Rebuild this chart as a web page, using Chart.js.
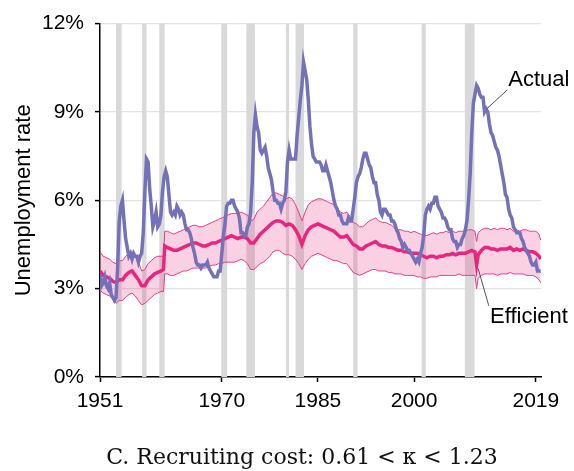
<!DOCTYPE html>
<html>
<head>
<meta charset="utf-8">
<script src="https://cdn.jsdelivr.net/npm/chart.js@4.4.1/dist/chart.umd.min.js"></script>
<style>
  html, body { margin: 0; padding: 0; background: #fff; }
</style>
</head>
<body>
<canvas id="chart" width="574" height="471"></canvas>
<script>
// quarterly actual unemployment rate, 1951Q1 .. 2019Q4
const firstYear = 1951;
const actualRate = [
  3.5, 3.1, 3.2, 3.4,   3.1, 3.0, 3.2, 2.8,   2.7, 2.6, 2.7, 3.7,   5.3, 5.8, 6.0, 5.3,   4.7, 4.4, 4.1, 4.2,
  4.0, 4.2, 4.1, 4.1,   3.9, 4.1, 4.2, 4.9,   6.3, 7.4, 7.3, 6.4,   5.8, 5.1, 5.3, 5.6,   5.1, 5.2, 5.5, 6.3,
  6.8, 7.0, 6.8, 6.2,   5.6, 5.5, 5.6, 5.5,   5.8, 5.7, 5.5, 5.6,   5.5, 5.2, 5.0, 5.0,   4.9, 4.7, 4.4, 4.2,
  3.9, 3.8, 3.8, 3.7,   3.8, 3.8, 3.8, 3.9,   3.7, 3.6, 3.5, 3.4,   3.4, 3.4, 3.6, 3.6,   4.2, 4.8, 5.2, 5.8,
  5.9, 5.9, 6.0, 6.0,   5.8, 5.7, 5.6, 5.4,   4.9, 4.9, 4.8, 4.8,   5.1, 5.2, 5.6, 6.6,   8.3, 8.9, 8.5, 8.3,
  7.7, 7.6, 7.7, 7.8,   7.5, 7.1, 6.9, 6.7,   6.3, 6.0, 6.0, 5.9,   5.9, 5.7, 5.9, 6.0,   6.3, 7.3, 7.7, 7.4,
  7.4, 7.4, 7.4, 8.2,   8.8, 9.4, 9.9, 10.7,  10.4, 10.1, 9.4, 8.5, 7.9, 7.5, 7.4, 7.3,   7.3, 7.3, 7.2, 7.0,
  7.0, 7.2, 7.0, 6.8,   6.6, 6.3, 6.0, 5.8,   5.7, 5.5, 5.5, 5.3,   5.2, 5.2, 5.2, 5.4,   5.3, 5.3, 5.7, 6.1,
  6.6, 6.8, 6.9, 7.1,   7.4, 7.6, 7.6, 7.4,   7.2, 7.1, 6.8, 6.6,   6.6, 6.2, 6.0, 5.6,   5.5, 5.7, 5.7, 5.6,
  5.5, 5.5, 5.3, 5.3,   5.2, 5.0, 4.9, 4.7,   4.6, 4.4, 4.5, 4.4,   4.3, 4.3, 4.2, 4.1,   4.0, 3.9, 4.0, 3.9,
  4.2, 4.4, 4.8, 5.5,   5.7, 5.8, 5.7, 5.9,   5.9, 6.1, 6.1, 5.8,   5.7, 5.6, 5.4, 5.4,   5.3, 5.1, 5.0, 5.0,
  4.7, 4.6, 4.6, 4.4,   4.5, 4.5, 4.7, 4.8,   5.0, 5.3, 6.0, 6.9,   8.3, 9.3, 9.6, 9.9,   9.8, 9.6, 9.5, 9.5,
  9.0, 9.1, 9.0, 8.6,   8.3, 8.2, 8.0, 7.8,   7.7, 7.5, 7.2, 6.9,   6.6, 6.2, 6.1, 5.7,   5.5, 5.4, 5.1, 5.0,
  4.9, 4.9, 4.9, 4.7,   4.6, 4.4, 4.3, 4.2,   4.1, 3.9, 3.8, 3.8,   3.9, 3.6, 3.6, 3.6
];
const quarterYears = actualRate.map((v, i) => firstYear + i / 4);

// efficient rate and its band (lower / upper kappa)
const bandYears = [
  1951, 1951.5, 1952, 1952.5, 1953, 1953.5, 1954, 1954.5, 1955, 1955.5,
  1956, 1956.5, 1957, 1957.5, 1958, 1958.5, 1959, 1959.5, 1960, 1960.5,
  1960.9, 1961.1, 1961.5,
  1962, 1962.5, 1963, 1963.5, 1964, 1964.5, 1965, 1965.5, 1966, 1966.5,
  1967, 1967.5, 1968, 1968.5, 1969, 1969.5, 1970, 1970.5, 1971, 1971.5,
  1972, 1972.5, 1973, 1973.5, 1974, 1974.5, 1975, 1975.5, 1976, 1976.5,
  1977, 1977.5, 1978, 1978.5, 1979, 1979.5, 1980, 1980.5, 1981, 1981.5,
  1982, 1982.5, 1983, 1983.5, 1984, 1984.5, 1985, 1985.5, 1986, 1986.5,
  1987, 1987.5, 1988, 1988.5, 1989, 1989.5, 1990, 1990.5, 1991, 1991.5,
  1992, 1992.5, 1993, 1993.5, 1994, 1994.5, 1995, 1995.5, 1996, 1996.5,
  1997, 1997.5, 1998, 1998.5, 1999, 1999.5, 2000, 2000.5, 2001, 2001.5,
  2002, 2002.5, 2003, 2003.5, 2004, 2004.5, 2005, 2005.5, 2006, 2006.5,
  2007, 2007.5, 2008, 2008.5, 2009, 2009.5,
  2009.75,
  2010, 2010.5, 2011, 2011.5, 2012, 2012.5, 2013, 2013.5, 2014, 2014.5,
  2015, 2015.5, 2016, 2016.5, 2017, 2017.5, 2018, 2018.5, 2019, 2019.5,
  2019.75
];
const efficientRate = [
  3.6, 3.45, 3.4, 3.35, 3.25, 3.2, 3.3, 3.3, 3.45, 3.55,
  3.6, 3.45, 3.3, 3.1, 3.1, 3.3, 3.4, 3.5, 3.55, 3.6,
  3.65, 4.45, 4.4,
  4.35, 4.3, 4.3, 4.35, 4.4, 4.45, 4.5, 4.55, 4.55, 4.5,
  4.45, 4.45, 4.5, 4.55, 4.55, 4.6, 4.65, 4.7, 4.75, 4.8,
  4.75, 4.7, 4.75, 4.75, 4.7, 4.55, 4.55, 4.7, 4.85, 4.95,
  5.05, 5.15, 5.25, 5.3, 5.3, 5.25, 5.15, 5.2, 5.15, 5.0,
  4.8, 4.5, 4.8, 5.0, 5.1, 5.15, 5.2, 5.15, 5.1, 5.05,
  5.0, 4.95, 4.85, 4.75, 4.75, 4.8, 4.65, 4.5, 4.45, 4.35,
  4.35, 4.45, 4.5, 4.55, 4.6, 4.5, 4.45, 4.45, 4.4, 4.4,
  4.35, 4.3, 4.3, 4.25, 4.25, 4.2, 4.2, 4.2, 4.15, 4.1,
  4.05, 4.1, 4.1, 4.05, 4.1, 4.1, 4.15, 4.15, 4.2, 4.15,
  4.2, 4.2, 4.2, 4.25, 4.3, 4.25,
  3.8,
  4.15, 4.3, 4.4, 4.4, 4.35, 4.35, 4.3, 4.35, 4.35, 4.35,
  4.4, 4.3, 4.35, 4.3, 4.35, 4.3, 4.25, 4.25, 4.2, 4.1,
  4.0
];
const upperRate = [
  4.25, 4.1, 4.05, 4.0, 3.9, 3.85, 3.95, 3.95, 4.1, 4.2,
  4.25, 4.1, 3.9, 3.6, 3.65, 3.85, 3.95, 4.05, 4.1, 4.1,
  4.1, 4.95, 4.95,
  4.9, 4.85, 4.9, 4.95, 5.0, 5.05, 5.1, 5.15, 5.15, 5.1,
  5.1, 5.15, 5.2, 5.25, 5.3, 5.35, 5.4, 5.45, 5.5, 5.55,
  5.55, 5.55, 5.6, 5.55, 5.5, 5.3, 5.35, 5.6, 5.7, 5.8,
  5.95, 6.1, 6.25, 6.25, 6.2, 6.15, 6.05, 6.1, 6.05, 5.85,
  5.6, 5.3, 5.6, 5.85, 5.95, 6.0, 6.05, 6.05, 6.0, 5.95,
  5.9, 5.85, 5.75, 5.6, 5.55, 5.6, 5.45, 5.25, 5.2, 5.1,
  5.1, 5.2, 5.3, 5.35, 5.4, 5.3, 5.25, 5.25, 5.2, 5.15,
  5.05, 5.0, 5.0, 4.95, 4.95, 4.9, 4.95, 4.9, 4.85, 4.8,
  4.8, 4.85, 4.9, 4.85, 4.9, 4.9, 4.95, 4.9, 4.95, 4.9,
  4.95, 4.95, 4.95, 5.0, 5.0, 4.95,
  4.6,
  4.9, 5.0, 5.05, 5.05, 5.0, 5.05, 5.0, 5.05, 5.05, 5.0,
  5.05, 4.95, 5.0, 4.95, 5.0, 5.0, 4.95, 4.95, 4.95, 4.85,
  4.65
];
const lowerRate = [
  2.95, 2.85, 2.8, 2.75, 2.65, 2.5, 2.6, 2.6, 2.7, 2.8,
  2.85, 2.75, 2.6, 2.45, 2.5, 2.6, 2.7, 2.8, 2.85, 2.9,
  2.9, 3.5, 3.5,
  3.45, 3.45, 3.5, 3.55, 3.6, 3.6, 3.65, 3.7, 3.7, 3.7,
  3.7, 3.7, 3.75, 3.8, 3.8, 3.85, 3.85, 3.9, 3.9, 3.9,
  3.9, 3.95, 4.0, 3.95, 3.85, 3.65, 3.65, 3.75, 3.85, 3.9,
  4.0, 4.1, 4.25, 4.3, 4.3, 4.2, 4.15, 4.15, 4.1, 4.0,
  3.85, 3.65, 3.85, 4.0, 4.1, 4.15, 4.2, 4.15, 4.1, 4.05,
  4.0, 3.95, 3.95, 3.9, 3.85, 3.85, 3.7, 3.55, 3.5, 3.45,
  3.5, 3.55, 3.6, 3.65, 3.65, 3.6, 3.6, 3.6, 3.55, 3.55,
  3.5, 3.5, 3.5, 3.45, 3.45, 3.45, 3.45, 3.4, 3.4, 3.35,
  3.35, 3.4, 3.4, 3.4, 3.45, 3.45, 3.45, 3.45, 3.45, 3.45,
  3.5, 3.45, 3.45, 3.45, 3.45, 3.45,
  3.0,
  3.35, 3.45, 3.5, 3.5, 3.5, 3.5, 3.45, 3.5, 3.5, 3.5,
  3.55, 3.5, 3.5, 3.5, 3.5, 3.45, 3.45, 3.45, 3.4, 3.3,
  3.2
];

// NBER recessions (peak month .. trough month)
const recessionStart = [1953.5, 1957.58, 1960.25, 1969.92, 1973.83, 1980.0, 1981.5, 1990.5, 2001.17, 2007.92];
const recessionEnd   = [1954.37, 1958.25, 1961.08, 1970.83, 1975.17, 1980.5, 1982.83, 1991.17, 2001.83, 2009.42];

const xTicks = [1951, 1970, 1985, 2000, 2019];
const yTicks = [0, 3, 6, 9, 12];

const caption = 'C. Recruiting cost: 0.61 < \u03ba < 1.23';

function toPoints(xs, ys) {
  return xs.map((x, i) => ({x: x, y: ys[i]}));
}

const sans = '"Liberation Sans", Arial, Helvetica, sans-serif';

const recessionBars = {
  id: 'recessionBars',
  beforeDatasetsDraw(chart) {
    const {ctx, chartArea, scales} = chart;
    ctx.save();
    ctx.fillStyle = '#d9d9d9';
    for (let i = 0; i < recessionStart.length; i++) {
      const x0 = scales.x.getPixelForValue(recessionStart[i]);
      const x1 = scales.x.getPixelForValue(recessionEnd[i]);
      ctx.fillRect(x0, chartArea.top, x1 - x0, chartArea.bottom - chartArea.top);
    }
    ctx.restore();
  }
};

// leader labels, anchored in data units
const notes = [
  {text: 'Actual', from: [2011.3, 9.1], to: [2014.55, 9.75], at: [2014.7, 9.88]},
  {text: 'Efficient', from: [2010.0, 3.68], to: [2011.65, 2.42], at: [2011.85, 1.84]}
];

const leaderLabels = {
  id: 'leaderLabels',
  afterDatasetsDraw(chart) {
    const {ctx, scales} = chart;
    ctx.save();
    notes.forEach(n => {
      ctx.strokeStyle = '#555';
      ctx.lineWidth = 1;
      ctx.beginPath();
      ctx.moveTo(scales.x.getPixelForValue(n.from[0]), scales.y.getPixelForValue(n.from[1]));
      ctx.lineTo(scales.x.getPixelForValue(n.to[0]), scales.y.getPixelForValue(n.to[1]));
      ctx.stroke();
      ctx.fillStyle = '#000';
      ctx.font = '22px ' + sans;
      ctx.textAlign = 'left';
      ctx.textBaseline = 'alphabetic';
      ctx.fillText(n.text, scales.x.getPixelForValue(n.at[0]), scales.y.getPixelForValue(n.at[1]));
    });
    ctx.restore();
  }
};

const captionText = {
  id: 'captionText',
  afterDraw(chart) {
    const ctx = chart.ctx;
    ctx.save();
    ctx.fillStyle = '#111';
    ctx.font = '22px "DejaVu Serif", serif';
    ctx.textAlign = 'center';
    ctx.textBaseline = 'alphabetic';
    ctx.fillText(caption, 302, chart.height - 7);
    ctx.restore();
  }
};

new Chart(document.getElementById('chart'), {
  type: 'line',
  data: {
    datasets: [
      {
        label: 'Actual',
        data: toPoints(quarterYears, actualRate),
        borderColor: '#7471b9',
        borderWidth: 3.5,
        pointRadius: 0,
        fill: false
      },
      {
        label: 'Efficient',
        data: toPoints(bandYears, efficientRate),
        borderColor: '#e8267f',
        borderWidth: 3.5,
        pointRadius: 0,
        fill: false
      },
      {
        label: 'Upper',
        data: toPoints(bandYears, upperRate),
        borderColor: '#ec3a8c',
        borderWidth: 1,
        pointRadius: 0,
        backgroundColor: 'rgba(236, 64, 140, 0.24)',
        fill: '+1'
      },
      {
        label: 'Lower',
        data: toPoints(bandYears, lowerRate),
        borderColor: '#ec3a8c',
        borderWidth: 1,
        pointRadius: 0,
        fill: false
      }
    ]
  },
  options: {
    responsive: false,
    animation: false,
    layout: {padding: {top: 18, right: 33, bottom: 54, left: 0}},
    plugins: {
      legend: {display: false},
      tooltip: {enabled: false}
    },
    scales: {
      x: {
        type: 'linear',
        min: 1951,
        max: 2019.8,
        z: 1,
        afterBuildTicks: s => { s.ticks = xTicks.map(v => ({value: v})); },
        afterFit: s => { s.height = 40; },
        ticks: {
          callback: v => String(v),
          color: '#000',
          font: {family: sans, size: 21},
          padding: 7,
          maxRotation: 0,
          autoSkip: false
        },
        grid: {drawOnChartArea: false, drawTicks: true, tickLength: 5, tickColor: '#000', tickWidth: 1.5},
        border: {color: '#000', width: 1.5}
      },
      y: {
        min: 0,
        max: 12,
        afterBuildTicks: s => { s.ticks = yTicks.map(v => ({value: v})); },
        afterFit: s => { s.width = 100; },
        ticks: {
          callback: v => v + '%',
          color: '#000',
          font: {family: sans, size: 21},
          padding: 11
        },
        grid: {color: '#e3e3e3', lineWidth: 1.2, drawTicks: true, tickLength: 5, tickColor: '#000', tickWidth: 1.5},
        border: {color: '#000', width: 1.5},
        title: {
          display: true,
          text: 'Unemployment rate',
          color: '#000',
          font: {family: sans, size: 22},
          padding: {top: 11, bottom: 0}
        }
      }
    }
  },
  plugins: [recessionBars, leaderLabels, captionText]
});
</script>
</body>
</html>
